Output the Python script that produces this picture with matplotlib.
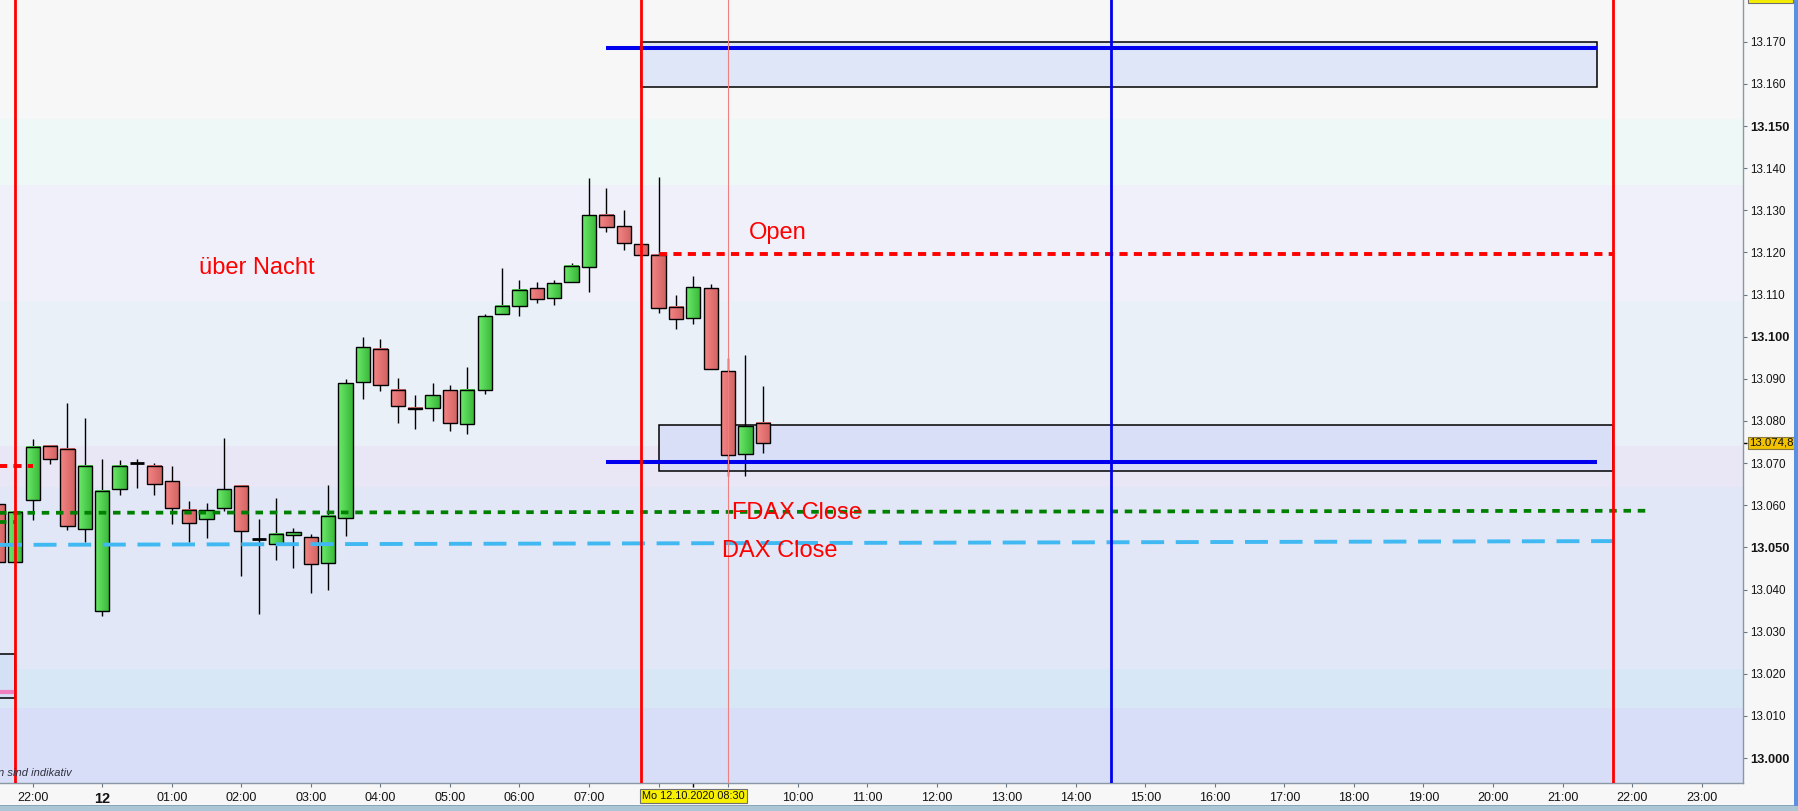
"""FDAX 15-minute candles for Mo 12.10.2020 with overnight / open / close levels."""

import matplotlib

matplotlib.use("Agg")

import matplotlib.pyplot as plt
import numpy as np
from matplotlib.colors import LinearSegmentedColormap
from matplotlib.patches import Rectangle


plt.rcParams["font.family"] = ["Liberation Sans", "DejaVu Sans"]

# 15-minute candles (clock times, evening ones belong to the day before)
candle_times = [
    "22:30", "22:45", "23:00", "23:15", "23:30", "23:45",
    "00:00", "00:15", "00:30", "00:45", "01:00", "01:15", "01:30", "01:45",
    "02:00", "02:15", "02:30", "02:45", "03:00", "03:15", "03:30", "03:45",
    "04:00", "04:15", "04:30", "04:45", "05:00", "05:15", "05:30", "05:45",
    "06:00", "06:15", "06:30", "06:45", "07:00", "07:15", "07:30", "07:45",
    "08:00", "08:15", "08:30", "08:45", "09:00", "09:15", "09:30",
]
opens = [
    13060.2, 13046.6, 13061.2, 13074.0, 13073.3, 13054.3,
    13034.8, 13063.8, 13070.1, 13069.3, 13065.7, 13058.8, 13056.7, 13059.3,
    13064.5, 13051.9, 13050.7, 13052.9, 13052.4, 13046.2, 13056.9, 13089.2,
    13097.2, 13087.4, 13083.2, 13083.2, 13087.3, 13079.2, 13087.3, 13105.3,
    13107.2, 13111.5, 13109.3, 13112.9, 13116.5, 13129.0, 13126.2, 13121.9,
    13119.3, 13107.0, 13104.4, 13111.5, 13091.8, 13072.1, 13079.5,
]
highs = [
    13060.2, 13058.5, 13075.7, 13074.4, 13084.2, 13080.7,
    13071.0, 13070.8, 13071.0, 13070.0, 13069.3, 13061.0, 13060.6, 13076.0,
    13064.5, 13056.8, 13061.7, 13054.6, 13053.2, 13064.8, 13089.9, 13099.9,
    13099.5, 13090.1, 13086.1, 13088.9, 13088.5, 13092.7, 13105.3, 13116.2,
    13113.4, 13113.1, 13113.4, 13117.4, 13137.6, 13135.4, 13130.0, 13121.9,
    13137.8, 13109.8, 13114.3, 13112.4, 13094.9, 13095.6, 13088.2,
]
lows = [
    13046.6, 13046.6, 13056.5, 13069.7, 13054.2, 13051.4,
    13033.8, 13062.5, 13064.0, 13062.5, 13055.6, 13051.2, 13052.3, 13058.7,
    13043.3, 13034.1, 13047.1, 13045.0, 13039.3, 13040.0, 13052.6, 13085.3,
    13087.2, 13079.5, 13078.2, 13079.9, 13077.7, 13076.8, 13086.3, 13105.3,
    13104.8, 13108.1, 13107.6, 13112.9, 13110.7, 13124.9, 13120.5, 13119.3,
    13105.7, 13101.9, 13102.9, 13092.3, 13066.9, 13066.9, 13072.3,
]
closes = [
    13046.6, 13058.5, 13073.8, 13070.9, 13055.0, 13069.3,
    13063.3, 13069.3, 13070.1, 13065.0, 13059.3, 13055.7, 13058.8, 13063.8,
    13053.8, 13051.9, 13053.1, 13053.6, 13046.0, 13057.4, 13088.9, 13097.5,
    13088.5, 13083.5, 13082.8, 13086.1, 13079.5, 13087.3, 13104.8, 13107.4,
    13111.2, 13108.9, 13112.7, 13116.7, 13128.8, 13126.0, 13122.2, 13119.3,
    13106.7, 13104.1, 13111.7, 13092.3, 13071.9, 13078.7, 13074.7,
]
last_price = 13074.8
last_price_label = "13.074,8"
cursor_label = "Mo 12.10.2020 08:30"

# time axis (hours from midnight) and its labels as printed on the chart;
# 08:00 and 09:00 sit under the cursor box, so they stay blank
tick_hours = list(range(-1, 24))
tick_labels = (["22:00", "12"] + [f"{h:02d}:00" for h in range(1, 8)] + ["", ""]
               + [f"{h:02d}:00" for h in range(10, 24)])
cursor_hour = 8.5

# price axis
price_ticks = list(range(13000, 13171, 10))

# background price zones (lower, upper, colour)
zone_edges = [12990.0, 13011.9, 13021.2, 13064.4, 13074.0, 13108.5, 13136.0, 13151.7, 13185.0]
zone_colors = ["#d8def7", "#d8e7f6", "#e1e7f6", "#e9e7f6", "#e9f0f8", "#eff0f9", "#eef8f6", "#f7f7f7"]

# vertical markers (hours)
red_verticals = [-1.25, 7.75, 21.72]
blue_vertical = 14.5
cursor_line = 9.0

# horizontal levels: (start hour, end hour, start price, end price)
open_level = (8.0, 21.72, 13119.7, 13119.7)
prev_open_level = (-1.6, -1.0, 13069.4, 13069.4)
fdax_close_level = (-1.6, 22.2, 13058.2, 13058.7)
prev_fdax_level = (-1.6, -1.25, 13056.1, 13056.1)
dax_close_level = (-1.6, 21.72, 13050.6, 13051.5)
blue_upper_level = (7.25, 21.5, 13168.4, 13168.4)
blue_lower_level = (7.25, 21.5, 13070.3, 13070.3)
prev_pink_level = (-1.6, -1.25, 13015.8, 13015.8)

# zones: (start hour, end hour, low, high)
upper_zone = (7.75, 21.5, 13159.2, 13170.0)
lower_zone = (8.0, 21.72, 13068.1, 13079.0)
prev_zone = (-1.6, -1.25, 13014.2, 13024.7)

# text annotations: (text, hour, baseline price)
labels = [
    ("über Nacht", 1.39, 13114.9),
    ("Open", 9.30, 13123.2),
    ("FDAX Close", 9.05, 13056.7),
    ("DAX Close", 8.91, 13047.7),
]


def to_hour(t: str) -> float:
    hh, mm = (int(p) for p in t.split(":"))
    h = hh + mm / 60.0
    return h - 24.0 if h >= 12.0 else h


def price_fmt(v: float) -> str:
    return f"{v:,.0f}".replace(",", ".")


def draw_level(ax, level, **kw):
    x0, x1, y0, y1 = level
    ax.plot([x0, x1], [y0, y1], solid_capstyle="butt", dash_capstyle="butt", **kw)


def draw_zone(ax, zone, face):
    x0, x1, lo, hi = zone
    ax.add_patch(Rectangle((x0, lo), x1 - x0, hi - lo, facecolor=face,
                           edgecolor="black", lw=1.1, zorder=1))


def main() -> None:
    fig = plt.figure(figsize=(17.98, 8.11), dpi=100, facecolor="#f7f7f7")
    ax = fig.add_axes([0.0, 1 - 783 / 811, 1743.3 / 1798, 783 / 811])
    ax.set_facecolor("#f7f7f7")
    x_lo, x_hi = -1.47, 23.60
    y_lo, y_hi = 12994.1, 13179.9
    ax.set_xlim(x_lo, x_hi)
    ax.set_ylim(y_lo, y_hi)

    for lo, hi, col in zip(zone_edges[:-1], zone_edges[1:], zone_colors):
        ax.axhspan(lo, hi, color=col, lw=0, zorder=0)

    draw_zone(ax, upper_zone, "#dfe6f7")
    draw_zone(ax, lower_zone, "#d8dff7")
    draw_zone(ax, prev_zone, "#d4e0f6")

    # candles
    hours = np.array([to_hour(t) for t in candle_times])
    width = 0.206
    green = LinearSegmentedColormap.from_list("g", ["#6cea6c", "#38b638"])
    red = LinearSegmentedColormap.from_list("r", ["#f58686", "#d26262"])
    grad = np.linspace(0, 1, 32).reshape(1, -1)
    for x, o, h, l, c in zip(hours, opens, highs, lows, closes):
        ax.vlines(x, l, h, color="black", lw=1.0, zorder=2)
        lo, hi = min(o, c), max(o, c)
        if hi - lo < 0.3:
            ax.hlines(o, x - width / 2, x + width / 2, color="black", lw=2.0, zorder=3)
            continue
        cmap = green if c > o else red
        ax.imshow(grad, extent=[x - width / 2, x + width / 2, lo, hi], cmap=cmap,
                  aspect="auto", interpolation="bilinear", zorder=3)
        ax.add_patch(Rectangle((x - width / 2, lo), width, hi - lo, facecolor="none",
                               edgecolor="black", lw=1.0, zorder=3.1))

    # levels
    draw_level(ax, open_level, color="#ff0000", lw=2.8, ls=(0, (2.1, 1.6)), zorder=4)
    draw_level(ax, prev_open_level, color="#ff0000", lw=2.8, ls=(0, (2.1, 1.6)), zorder=4)
    draw_level(ax, fdax_close_level, color="#008000", lw=2.7, ls=(0, (2.0, 1.8)), zorder=4)
    draw_level(ax, prev_fdax_level, color="#008000", lw=2.7, ls=(0, (2.0, 1.8)), zorder=4)
    draw_level(ax, dax_close_level, color="#40b8f2", lw=2.8, ls=(0, (5.9, 3.0)), zorder=4)
    draw_level(ax, blue_upper_level, color="#0000ee", lw=2.9, zorder=4)
    draw_level(ax, blue_lower_level, color="#0000ee", lw=2.9, zorder=4)
    draw_level(ax, prev_pink_level, color="#f080c0", lw=3.0, zorder=4)

    for xv in red_verticals:
        ax.axvline(xv, color="#ff0000", lw=2.0, zorder=5)
    ax.axvline(blue_vertical, color="#0000ee", lw=2.0, zorder=5)
    ax.axvline(cursor_line, color="#f08080", lw=0.8, zorder=5)

    for txt, hx, py in labels:
        ax.text(hx, py, txt, color="#ff0000", fontsize=17, ha="left",
                va="baseline", zorder=6)

    ax.text(-0.001, 0.006, "n sind indikativ", transform=ax.transAxes, fontsize=8,
            style="italic", color="#303040", ha="left", va="bottom", zorder=6)

    # axes styling
    for side in ("left", "top"):
        ax.spines[side].set_visible(False)
    for side in ("right", "bottom"):
        ax.spines[side].set_color("#8a98a6")
        ax.spines[side].set_linewidth(1.0)

    ax.set_xticks(tick_hours)
    ax.set_xticklabels(tick_labels)
    ax.set_xticks([cursor_hour], minor=True)
    ax.tick_params(axis="x", which="major", direction="out", length=3, width=0.8,
                   color="#6a7886", labelsize=9.0, pad=3.5, labelcolor="#141414")
    ax.tick_params(axis="x", which="minor", direction="out", length=3, width=1.0,
                   color="black")
    for lab in ax.get_xticklabels():
        if lab.get_text() == "12":
            lab.set_fontweight("bold")
            lab.set_fontsize(10.5)

    ax.yaxis.tick_right()
    ax.set_yticks(price_ticks)
    ax.set_yticklabels([price_fmt(v) for v in price_ticks])
    ax.set_yticks([last_price], minor=True)
    ax.tick_params(axis="y", which="major", direction="out", length=3, width=0.8,
                   color="#6a7886", labelsize=8.4, pad=2, labelcolor="#141414")
    ax.tick_params(axis="y", which="minor", direction="out", length=3, width=1.0,
                   color="black", labelright=False)
    for lab, v in zip(ax.get_yticklabels(), price_ticks):
        if v % 50 == 0:
            lab.set_fontweight("bold")
            lab.set_fontsize(9.3)

    ax.annotate(last_price_label, xy=(1.0, last_price), xycoords=("axes fraction", "data"),
                xytext=(4.5, 0), textcoords="offset points", ha="left", va="center",
                fontsize=8.2, color="#101010", zorder=7, annotation_clip=False,
                bbox=dict(boxstyle="square,pad=0.12", facecolor="#f2c200",
                          edgecolor="#8a7a40", lw=0.8))

    ax.annotate(cursor_label, xy=(cursor_hour, 0.0), xycoords=("data", "axes fraction"),
                xytext=(0, -9.2), textcoords="offset points", ha="center", va="center",
                fontsize=7.8, color="#101010", zorder=7, annotation_clip=False,
                bbox=dict(boxstyle="square,pad=0.18", facecolor="#f8f000",
                          edgecolor="#707070", lw=0.8))

    # frame strips of the trading window
    fig.patches.append(Rectangle((0, 0), 1, 5.5 / 811, transform=fig.transFigure,
                                 facecolor="#adc6d6", edgecolor="none", zorder=0))
    fig.patches.append(Rectangle((0, 5.5 / 811), 1, 0.8 / 811, transform=fig.transFigure,
                                 facecolor="#8aa4b8", edgecolor="none", zorder=0))
    fig.patches.append(Rectangle((1794 / 1798, 5.5 / 811), 4 / 1798, 1, transform=fig.transFigure,
                                 facecolor="#5b8fe0", edgecolor="none", zorder=0))
    fig.patches.append(Rectangle((1748 / 1798, 1 - 3 / 811), 45 / 1798, 4 / 811,
                                 transform=fig.transFigure, facecolor="#f8f000",
                                 edgecolor="#707070", lw=0.8, zorder=0))

    fig.savefig("out.png", dpi=100, facecolor=fig.get_facecolor())
    plt.close(fig)


if __name__ == "__main__":
    main()
